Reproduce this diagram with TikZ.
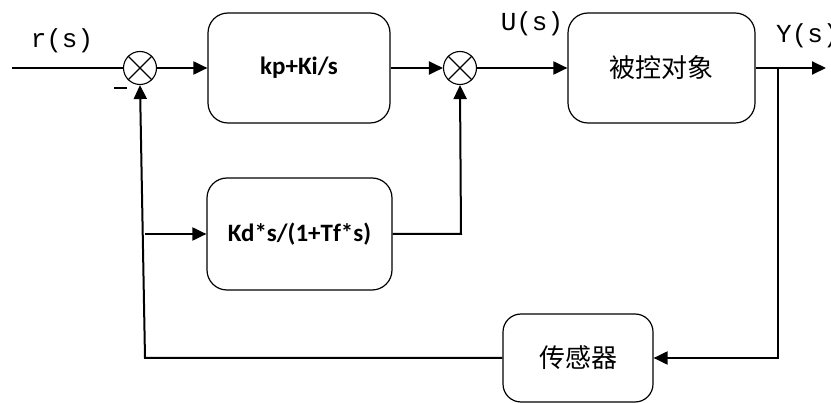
\documentclass[tikz,border=0pt]{standalone}
\usepackage{fontspec}
\setmainfont{Carlito}
\newfontfamily\cjk{Noto Sans CJK SC}
\newfontfamily\monof{Liberation Mono}
\usetikzlibrary{arrows.meta}
\begin{document}
\begin{tikzpicture}[x=1pt,y=-1pt,
  wire/.style={line width=2pt},
  arr/.style={wire,-{Triangle[length=14pt,width=13pt]}},
  block/.style={draw,line width=1.2pt,rounded corners=20pt,minimum width=#1,minimum height=110pt,inner sep=0pt},
  blocksm/.style={draw,line width=1.2pt,rounded corners=18pt,minimum width=150pt,minimum height=88pt,inner sep=0pt},
  sumj/.style={draw,circle,line width=1.1pt,minimum size=33pt,inner sep=0pt},
  sig/.style={font=\monof\fontsize{26}{26}\selectfont,inner sep=0pt},
  lab/.style={font=\bfseries\fontsize{25}{25}\selectfont},
  cn/.style={font=\cjk\fontsize{26}{26}\selectfont}]
\useasboundingbox (0,0) rectangle (831,403);

% summing junctions
\node[sumj] (s1) at (140,68) {};
\node[sumj] (s2) at (460,68) {};
\foreach \s in {s1,s2}{
  \draw[line width=1.1pt] (\s.north west) -- (\s.south east) (\s.north east) -- (\s.south west);}

% blocks
\node[block=182pt,lab] (pi) at (299,68) {kp+Ki/s};
\node[block=187pt,cn] (plant) at (661.5,68) {被控对象};
\node[block=185pt,minimum height=112pt,lab] (kd) at (299.5,234) {Kd*s/(1+Tf*s)};
\node[blocksm,cn] (sens) at (578,358) {传感器};

% junction points
\coordinate (in) at (12,68);
\coordinate (out) at (826,68);
\coordinate (br) at (778,68);
\coordinate (brd) at (778,358);
\coordinate (fbl) at (145,358);
\coordinate (fbk) at (145,234);
\coordinate (kdr) at (461,234);

% forward path
\draw[wire] (in) -- (s1.west);
\draw[arr] (s1.east) -- (pi.west);
\draw[arr] (pi.east) -- (s2.west);
\draw[arr] (s2.east) -- (plant.west);
\draw[arr] (plant.east) -- (out);

% derivative branch
\draw[arr] (fbk) -- (kd.west);
\draw[arr] (kd.east) -- (kdr) -- (s2.south);

% feedback loop
\draw[arr] (br) -- (brd) -- (sens.east);
\draw[arr] (sens.west) -- (fbl) -- (s1.south);

% signal labels
\node[sig] (r) at (62,41) {r(s)};
\node[sig] (u) at (532,24) {U(s)};
\node[sig,anchor=west] (y) at (776,36) {Y(s)};
\draw[line width=2pt] (114,88) -- (127,88);
\end{tikzpicture}
\end{document}
